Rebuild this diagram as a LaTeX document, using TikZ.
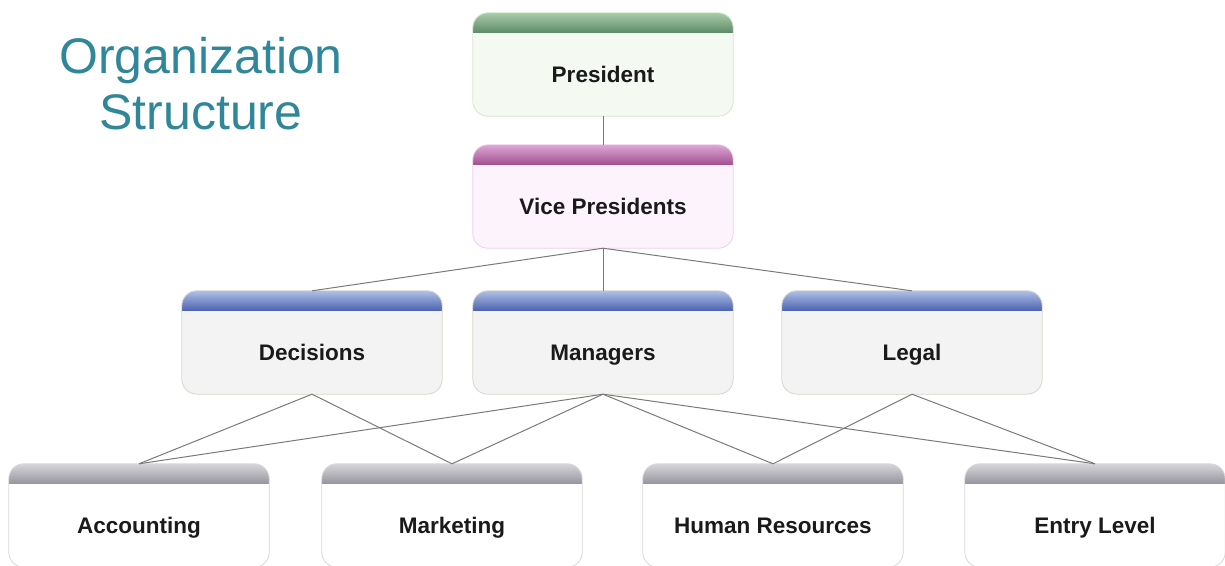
\documentclass[tikz,border=0pt]{standalone}
\usepackage{fontspec}
\setmainfont{Liberation Sans}
\definecolor{titlecol}{HTML}{2F8799}
\definecolor{linecol}{HTML}{7A7A7A}
\definecolor{txt}{HTML}{1A1A1A}
\definecolor{gfill}{HTML}{F4F9F2}\definecolor{gline}{HTML}{D6E6CF}\definecolor{gtop}{HTML}{A9CBA9}\definecolor{gbot}{HTML}{5F8C68}
\definecolor{pfill}{HTML}{FDF3FC}\definecolor{pline}{HTML}{EBCFE8}\definecolor{ptop}{HTML}{DDA6D6}\definecolor{pbot}{HTML}{A2528F}
\definecolor{bfill}{HTML}{F3F3F3}\definecolor{bline}{HTML}{D8D4C8}\definecolor{btop}{HTML}{AFC0E6}\definecolor{bbot}{HTML}{4E63B0}
\definecolor{wfill}{HTML}{FFFFFF}\definecolor{wline}{HTML}{D8D8D8}\definecolor{wtop}{HTML}{D6D6DA}\definecolor{wbot}{HTML}{98969E}
\tikzset{
  x=1pt, y=1pt,
  box/.style={rounded corners=15pt, minimum width=260pt, minimum height=103pt, inner sep=0pt},
  lbl/.style={font=\fontsize{22.5}{26}\selectfont\bfseries, text=txt, anchor=base, inner sep=0pt},
  conn/.style={draw=linecol, line width=1pt},
}
% #1 name, #2 position, #3 colour prefix, #4 text
\newcommand{\orgbox}[4]{%
  \node[box, fill=#3fill] (#1) at (#2) {};
  \begin{scope}
    \clip[rounded corners=15pt] (#1.south west) rectangle (#1.north east);
    \shade[sharp corners, top color=#3top, bottom color=#3bot] (#1.north west) rectangle ([yshift=-19.5pt]#1.north east);
  \end{scope}
  \draw[rounded corners=15pt, draw=#3line, line width=0.8pt] (#1.south west) rectangle (#1.north east);
  \node[lbl] (#1-t) at ([yshift=-17.5pt]#1.center) {#4};
}
\begin{document}
\begin{tikzpicture}
\useasboundingbox (0,0) rectangle (1225,-565);
\node[titlecol, font=\fontsize{50}{56}\selectfont, align=center] (title) at (201,-84) {Organization\\Structure};

\orgbox{pres}{603,-64.5}{g}{President}
\orgbox{vp}{603,-196.5}{p}{Vice Presidents}
\orgbox{dec}{312,-342.5}{b}{Decisions}
\orgbox{man}{603,-342.5}{b}{Managers}
\orgbox{leg}{912,-342.5}{b}{Legal}
\orgbox{acc}{139,-515.5}{w}{Accounting}
\orgbox{mkt}{452,-515.5}{w}{Marketing}
\orgbox{hr}{773,-515.5}{w}{Human Resources}
\orgbox{ent}{1095,-515.5}{w}{Entry Level}

\path[conn] (pres.south) -- (vp.north);
\path[conn] (vp.south) -- (dec.north);
\path[conn] (vp.south) -- (man.north);
\path[conn] (vp.south) -- (leg.north);
\path[conn] (dec.south) -- (acc.north);
\path[conn] (dec.south) -- (mkt.north);
\path[conn] (man.south) -- (acc.north);
\path[conn] (man.south) -- (mkt.north);
\path[conn] (man.south) -- (hr.north);
\path[conn] (man.south) -- (ent.north);
\path[conn] (leg.south) -- (hr.north);
\path[conn] (leg.south) -- (ent.north);
\end{tikzpicture}
\end{document}
